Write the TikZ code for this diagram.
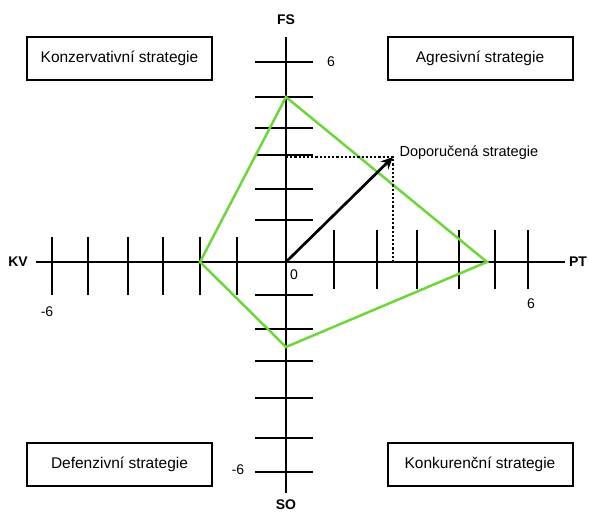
\documentclass[tikz,border=0pt]{standalone}
\usepackage{fontspec}
\setmainfont{Liberation Sans}
\usetikzlibrary{arrows.meta}
\definecolor{matgreen}{RGB}{108,214,58}

\tikzset{
  quadbox/.style={draw, line width=2pt, minimum width=185pt, minimum height=43pt, inner sep=0pt, font=\fontsize{15.5}{18}\selectfont},
  axislab/.style={font=\bfseries\fontsize{14}{16}\selectfont},
  numlab/.style={font=\fontsize{14}{16}\selectfont},
  tickline/.style={line width=1.3pt},
  axisline/.style={line width=2.6pt},
}

\begin{document}
\begin{tikzpicture}[x=1pt, y=-1pt]
  \useasboundingbox (0,0) rectangle (589,514);
  % quadrant boxes
  \node[quadbox] (kons) at (119.5,58.5) {Konzervativní strategie};
  \node[quadbox] (agr)  at (480,58.5) {Agresivní strategie};
  \node[quadbox] (def)  at (119.5,464) {Defenzivní strategie};
  \node[quadbox] (konk) at (480,464) {Konkurenční strategie};
  % axis labels
  \node[axislab] (fs) at (286,20) {FS};
  \node[axislab] (so) at (286,505) {SO};
  \node[axislab] (kv) at (18,262) {KV};
  \node[axislab] (pt) at (578,262) {PT};
  \coordinate (O) at (286,262);
  \coordinate (xl) at (36,262);
  \coordinate (xr) at (565,262);
  \coordinate (yt) at (286,37);
  \coordinate (yb) at (286,493);
  % ticks
  \draw[tickline] (52,237) -- (52,295);
  \draw[tickline] (88,237) -- (88,295);
  \draw[tickline] (128,237) -- (128,295);
  \draw[tickline] (163,237) -- (163,295);
  \draw[tickline] (200,237) -- (200,295);
  \draw[tickline] (237,237) -- (237,295);
  \draw[tickline] (334,230) -- (334,289);
  \draw[tickline] (377,230) -- (377,289);
  \draw[tickline] (417,230) -- (417,289);
  \draw[tickline] (459,230) -- (459,289);
  \draw[tickline] (495,230) -- (495,289);
  \draw[tickline] (528,230) -- (528,289);
  \draw[tickline] (255,62) -- (313,62);
  \draw[tickline] (255,97) -- (313,97);
  \draw[tickline] (255,128) -- (313,128);
  \draw[tickline] (255,155) -- (313,155);
  \draw[tickline] (255,189) -- (313,189);
  \draw[tickline] (255,220) -- (313,220);
  \draw[tickline] (255,295) -- (313,295);
  \draw[tickline] (255,329) -- (313,329);
  \draw[tickline] (255,361) -- (313,361);
  \draw[tickline] (255,398) -- (313,398);
  \draw[tickline] (255,438) -- (313,438);
  \draw[tickline] (255,472) -- (313,472);
  % axes
  \draw[axisline] (xl) -- (xr);
  \draw[axisline] (yt) -- (yb);
  % scale numbers
  \node[numlab] (ntop) at (331,62) {6};
  \node[numlab] (nzero) at (294,275) {0};
  \node[numlab] (nleft) at (47,312) {-6};
  \node[numlab] (nright) at (531,304) {6};
  \node[numlab] (nbot) at (238,470) {-6};
  % polygon
  \coordinate (ptop) at (286,97);
  \coordinate (pright) at (487,262);
  \coordinate (pbot) at (286,347);
  \coordinate (pleft) at (200,262);
  \draw[matgreen, line width=2.5pt, line join=miter] (ptop) -- (pright) -- (pbot) -- (pleft) -- cycle;
  % recommended strategy
  \coordinate (rec) at (393,157);
  \draw[line width=2.2pt, dotted] (O |- rec) -- (rec) -- (rec |- O);
  \draw[line width=2.7pt, -{Stealth[length=12pt, width=11pt]}] (O) -- (rec);
  \node[anchor=west, font=\fontsize{14.5}{16}\selectfont] (reclab) at (396,153) {Doporučená strategie};
\end{tikzpicture}
\end{document}
